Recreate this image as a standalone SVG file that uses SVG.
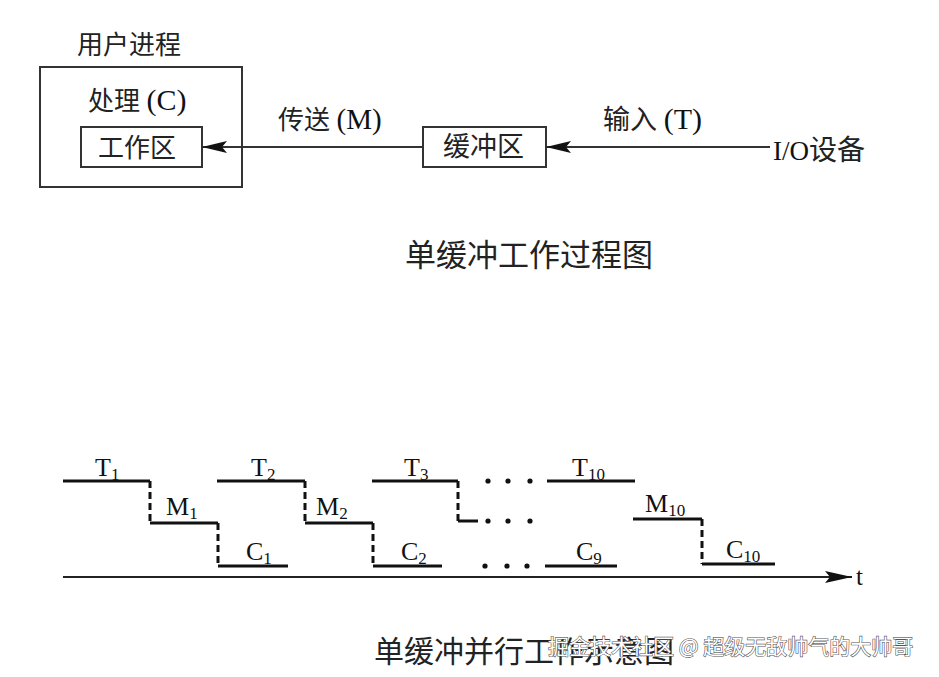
<svg xmlns="http://www.w3.org/2000/svg" width="939" height="677" viewBox="0 0 939 677">
<style>
.cn{font-family:"Liberation Serif","Noto Sans CJK SC",serif;fill:#222}
.lat{font-family:"Liberation Serif",serif;fill:#111}
.box{fill:#fff;stroke:#333;stroke-width:2}
.conn{stroke:#333;stroke-width:2;fill:none}
.step{stroke:#111;stroke-width:3;fill:none}
.dash{stroke:#111;stroke-width:3;fill:none;stroke-dasharray:7 4}
.sub{font-size:17px}
.wm{font-family:"Noto Sans CJK SC",sans-serif;font-size:21px;fill:#fff;stroke:#555;stroke-width:1.2;paint-order:stroke}
</style>
<defs>
<marker id="ah" markerUnits="userSpaceOnUse" viewBox="-26 -7 27 14" markerWidth="27" markerHeight="14" refX="0" refY="0" orient="auto">
<path d="M0,0 L-25,-6 L-20,0 L-25,6 Z" fill="#111"/>
</marker>
<marker id="ah2" markerUnits="userSpaceOnUse" viewBox="-28 -7 29 14" markerWidth="29" markerHeight="14" refX="0" refY="0" orient="auto">
<path d="M0,0 L-27,-6 L-22,0 L-27,6 Z" fill="#111"/>
</marker>
</defs>
<rect width="939" height="677" fill="#fff"/>

<g id="user-process">
<text class="cn" x="77" y="54" font-size="26">用户进程</text>
<rect class="box" x="40" y="67" width="202" height="120"/>
<text class="cn" x="88" y="110" font-size="26">处理 <tspan class="lat" font-size="30" fill="#222">(C)</tspan></text>
</g>
<g id="work-area">
<rect class="box" x="81" y="127" width="121" height="40"/>
<text class="cn" x="98" y="157" font-size="26">工作区</text>
</g>
<g id="buffer">
<rect class="box" x="423" y="127" width="123" height="40"/>
<text class="cn" x="443" y="156" font-size="27">缓冲区</text>
</g>
<g id="io-device">
<text class="cn" x="773" y="160" font-size="28"><tspan class="lat" font-size="27" fill="#222">I/O</tspan>设备</text>
</g>

<g id="connectors">
<line class="conn" x1="423" y1="147" x2="202" y2="147" marker-end="url(#ah)"/>
<line class="conn" x1="770" y1="147" x2="546" y2="147" marker-end="url(#ah)"/>
<text class="cn" x="278" y="129" font-size="26">传送 <tspan class="lat" font-size="29" fill="#222">(M)</tspan></text>
<text class="cn" x="603" y="129" font-size="27">输入 <tspan class="lat" font-size="30" fill="#222">(T)</tspan></text>
</g>

<text class="cn" x="405" y="266" font-size="31">单缓冲工作过程图</text>

<g id="timeline">
<line x1="63" y1="577" x2="852" y2="577" stroke="#222" stroke-width="2" marker-end="url(#ah2)"/>
<text class="lat" x="856" y="585" font-size="25">t</text>

<path class="step" d="M63,481 H150"/>
<path class="dash" d="M150,481 V523"/>
<path class="step" d="M150,523 H218"/>
<path class="dash" d="M218,523 V566"/>
<path class="step" d="M218,566 H288"/>

<path class="step" d="M217,481 H305"/>
<path class="dash" d="M305,481 V523"/>
<path class="step" d="M305,523 H373"/>
<path class="dash" d="M373,523 V566"/>
<path class="step" d="M373,566 H442"/>

<path class="step" d="M372,481 H458"/>
<path class="dash" d="M458,481 V521"/>
<path class="step" d="M458,521 H478"/>

<g fill="#111">
<circle cx="488" cy="481" r="2.6"/><circle cx="508" cy="481" r="2.6"/><circle cx="530" cy="481" r="2.6"/>
<circle cx="488" cy="521" r="2.6"/><circle cx="508" cy="521" r="2.6"/><circle cx="530" cy="521" r="2.6"/>
<circle cx="485" cy="566" r="2.6"/><circle cx="507" cy="566" r="2.6"/><circle cx="527" cy="566" r="2.6"/>
</g>

<path class="step" d="M547,481 H635"/>
<path class="step" d="M545,566 H617"/>

<path class="step" d="M633,519 H702"/>
<path class="dash" d="M702,519 V564"/>
<path class="step" d="M702,564 H775"/>

<g class="lat" font-size="26">
<text x="95" y="476">T<tspan class="sub" dy="4">1</tspan></text>
<text x="251" y="476">T<tspan class="sub" dy="4">2</tspan></text>
<text x="404" y="476">T<tspan class="sub" dy="4">3</tspan></text>
<text x="572" y="476">T<tspan class="sub" dy="4">10</tspan></text>
<text x="166" y="515">M<tspan class="sub" dy="4">1</tspan></text>
<text x="316" y="515">M<tspan class="sub" dy="4">2</tspan></text>
<text x="645" y="512">M<tspan class="sub" dy="4">10</tspan></text>
<text x="246" y="560">C<tspan class="sub" dy="4">1</tspan></text>
<text x="401" y="560">C<tspan class="sub" dy="4">2</tspan></text>
<text x="576" y="560">C<tspan class="sub" dy="4">9</tspan></text>
<text x="726" y="558">C<tspan class="sub" dy="4">10</tspan></text>
</g>
</g>

<text class="cn" x="374" y="662" font-size="30">单缓冲并行工作示意图</text>
<text class="wm" x="548" y="654">掘金技术社区 @ 超级无敌帅气的大帅哥</text>
</svg>
